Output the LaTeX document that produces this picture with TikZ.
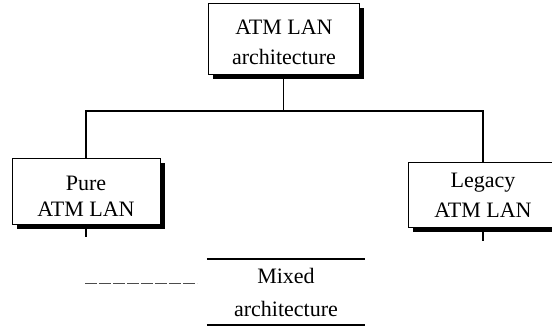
\documentclass[tikz,border=0pt]{standalone}
\usepackage{fontspec}
\setmainfont{Liberation Serif}
\usetikzlibrary{shadows}
\tikzset{
  box/.style={draw=black, line width=0.8pt, fill=white, inner sep=0pt,
    drop shadow={shadow xshift=5pt, shadow yshift=-5pt, fill=black, opacity=1}},
  txt/.style={inner sep=0pt, align=center},
  conn/.style={line width=1.4pt, black},
  rule/.style={line width=1.6pt, black},
}
\begin{document}
\begin{tikzpicture}[x=1pt,y=-1pt]
\useasboundingbox (0,0) rectangle (552,327);
\clip (0,0) rectangle (552,327);
\node[box, minimum width=151pt, minimum height=71pt] (top) at (283.5,38.5) {};
\node[txt, font=\fontsize{22}{30}\selectfont] (toptxt) at (284,42.5) {ATM LAN\\architecture};
\node[box, minimum width=148pt, minimum height=66pt] (pure) at (86,191) {};
\node[txt, font=\fontsize{22}{26}\selectfont] (puretxt) at (86,196) {Pure\\ATM LAN};
\node[box, minimum width=150pt, minimum height=65pt] (legacy) at (483,194.5) {};
\node[txt, font=\fontsize{22}{30}\selectfont] (legacytxt) at (483,195) {Legacy\\ATM LAN};
\coordinate (hub) at (283.5,111);
\draw[conn] (top.south) -- (hub);
\draw[conn] (pure.north) |- (hub) -| (legacy.north);
\coordinate (pt) at (86,237);
\coordinate (lt) at (483,241);
\draw[conn] (86,229) -- (pt);
\draw[conn] (483,232) -- (lt);
\coordinate (d1) at (85,283);
\coordinate (d2) at (197,283);
\draw[line width=1pt, black!70, dash pattern=on 12pt off 2pt] (d1) -- (d2);
\node[inner sep=0pt, minimum width=158pt, minimum height=66pt, align=center,
  font=\fontsize{22}{33}\selectfont] (mixed) at (286,292) {Mixed\\architecture};
\draw[rule] (mixed.north west) -- (mixed.north east);
\draw[rule] (mixed.south west) -- (mixed.south east);
\end{tikzpicture}
\end{document}
